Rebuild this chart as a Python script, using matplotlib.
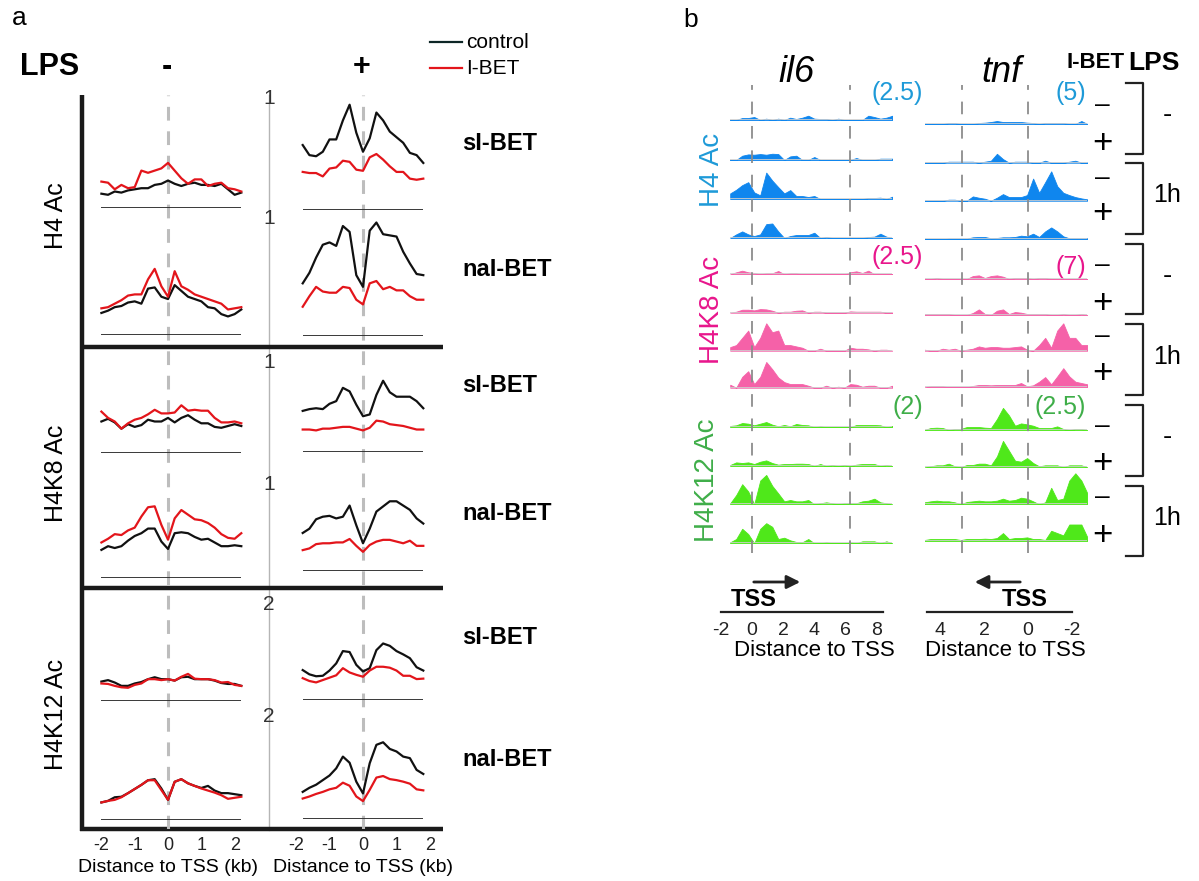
import numpy as np
import matplotlib.pyplot as plt

plt.rcParams['font.family'] = ['Liberation Sans', 'DejaVu Sans']

W, H = 1199, 881

# panel a: profiles around the TSS, x in kb, y in units of the scale bar
x_left = np.round(np.arange(-2.0, 2.21, 0.2), 1)
x_right = np.round(np.arange(-1.8, 1.81, 0.2), 1)

# H4 Ac, sI-BET
h4_si_neg_ctrl = [.13, .12, .15, .14, .16, .17, .18, .18, .21, .22, .25, .22, .20, .22, .23, .21, .21, .20, .22, .17, .12, .14]
h4_si_neg_ibet = [.24, .23, .17, .21, .18, .19, .34, .32, .34, .36, .41, .34, .27, .22, .26, .26, .20, .22, .23, .18, .17, .15]
h4_si_pos_ctrl = [.58, .49, .48, .52, .63, .63, .80, .94, .69, .52, .64, .87, .80, .70, .65, .60, .51, .49, .42]
h4_si_pos_ibet = [.34, .33, .33, .30, .37, .38, .44, .43, .36, .35, .47, .50, .45, .39, .34, .34, .28, .27, .28]
# H4 Ac, naI-BET
h4_na_neg_ctrl = [.19, .21, .24, .25, .28, .29, .27, .40, .41, .33, .31, .43, .38, .33, .31, .29, .24, .23, .18, .16, .18, .22]
h4_na_neg_ibet = [.23, .24, .27, .30, .34, .35, .35, .48, .57, .42, .33, .55, .42, .39, .35, .33, .31, .29, .27, .22, .23, .24]
h4_na_pos_ctrl = [.45, .54, .67, .78, .80, .77, .94, .89, .52, .42, .90, .97, .87, .86, .85, .72, .62, .53, .52]
h4_na_pos_ibet = [.25, .34, .42, .38, .37, .37, .42, .41, .31, .27, .45, .47, .40, .42, .39, .39, .34, .31, .31]
# H4K8 Ac, sI-BET
k8_si_neg_ctrl = [.35, .38, .34, .27, .32, .29, .31, .37, .35, .35, .39, .34, .39, .42, .37, .33, .33, .29, .28, .30, .32, .30]
k8_si_neg_ibet = [.46, .39, .35, .27, .33, .37, .39, .43, .48, .44, .44, .45, .53, .47, .48, .47, .47, .39, .34, .34, .35, .33]
k8_si_pos_ctrl = [.46, .48, .49, .48, .54, .57, .72, .68, .53, .40, .42, .64, .80, .67, .62, .62, .62, .57, .49]
k8_si_pos_ibet = [.25, .25, .24, .26, .26, .27, .28, .28, .26, .24, .27, .35, .34, .31, .30, .29, .27, .25, .25]
# H4K8 Ac, naI-BET
k8_na_neg_ctrl = [.30, .34, .32, .34, .40, .45, .48, .53, .53, .39, .31, .48, .49, .48, .44, .41, .42, .38, .34, .34, .35, .34]
k8_na_neg_ibet = [.38, .42, .47, .46, .51, .54, .66, .76, .77, .57, .41, .64, .73, .68, .63, .62, .59, .54, .47, .43, .42, .48]
k8_na_pos_ctrl = [.44, .49, .60, .63, .64, .61, .63, .76, .53, .32, .49, .69, .75, .81, .81, .76, .71, .61, .55]
k8_na_pos_ibet = [.24, .26, .31, .32, .32, .33, .33, .37, .29, .22, .30, .34, .36, .36, .34, .32, .35, .29, .29]
# H4K12 Ac, sI-BET
k12_si_neg_ctrl = [.40, .43, .38, .31, .31, .36, .39, .45, .49, .45, .45, .42, .49, .50, .45, .45, .45, .42, .37, .35, .35, .31]
k12_si_neg_ibet = [.36, .35, .31, .28, .27, .33, .36, .45, .45, .43, .45, .42, .50, .56, .46, .45, .45, .43, .38, .39, .33, .31]
k12_si_pos_ctrl = [.63, .54, .50, .51, .62, .77, 1.03, 1.01, .74, .60, .67, 1.05, 1.19, 1.14, 1.03, .96, .88, .69, .62]
k12_si_pos_ibet = [.46, .40, .37, .42, .47, .52, .67, .58, .53, .49, .62, .70, .70, .68, .62, .51, .51, .44, .45]
# H4K12 Ac, naI-BET
k12_na_neg_ctrl = [.34, .37, .44, .45, .52, .60, .68, .77, .79, .61, .39, .74, .79, .71, .66, .62, .66, .57, .52, .52, .50, .48]
k12_na_neg_ibet = [.34, .37, .39, .44, .52, .60, .68, .77, .77, .58, .39, .74, .79, .71, .66, .61, .57, .53, .48, .41, .43, .45]
k12_na_pos_ctrl = [.53, .61, .67, .76, .85, .99, 1.22, 1.10, .73, .50, 1.09, 1.45, 1.50, 1.37, 1.32, 1.22, 1.19, .96, .88]
k12_na_pos_ibet = [.40, .44, .49, .53, .58, .61, .71, .65, .44, .35, .57, .81, .84, .78, .76, .73, .69, .58, .56]

# panel b: genome browser tracks, height relative to track scale
il6_kb = np.linspace(-1.4, 9.0, 28)
tnf_kb = np.linspace(4.7, -2.7, 28)
scale_il6 = [2.5, 2.5, 2]
scale_tnf = [5, 7, 2.5]

h4_il6 = [
    [0, 0, .06, .06, .09, 0, .04, 0, .04, 0, .07, .03, .07, .13, .04, .03, .03, 0, .04, 0, 0, 0, 0, .13, .09, .04, .07, .13],
    [0, 0, .13, .17, .16, .18, .16, .19, .18, 0, .11, .13, 0, 0, .09, 0, 0, 0, 0, 0, 0, .06, 0, 0, 0, .04, .04, .04],
    [.17, .28, .42, .51, .20, .11, .80, .56, .36, .17, .27, .09, .09, .06, .09, 0, 0, 0, 0, 0, 0, 0, 0, .03, .03, .04, 0, .07],
    [0, .11, .20, .11, .06, .11, .42, .44, .20, 0, .06, .09, .09, .09, .16, 0, .03, 0, 0, 0, 0, 0, 0, .03, .04, .13, .04, 0],
]
h4_tnf = [
    [0, 0, 0, 0, .03, .03, 0, 0, 0, .03, .04, .06, .09, .06, .06, .06, .06, .04, .03, 0, .03, .03, .03, .03, 0, 0, .09, 0],
    [0, 0, 0, 0, .03, .03, .03, .03, .03, 0, .03, .06, .27, .11, 0, .03, .03, .03, 0, 0, .06, 0, 0, 0, .03, .06, 0, 0],
    [0, 0, 0, 0, .03, .03, 0, 0, .13, .09, .06, 0, .09, .20, .11, .11, .11, .17, .67, .24, .56, .89, .44, .24, .17, .11, .07, .04],
    [0, 0, 0, 0, .02, .02, .02, .02, .06, .07, .07, .03, .04, .06, .06, .07, .11, .09, .17, .07, .24, .36, .24, .09, .03, .03, .03, .03],
]
k8_il6 = [
    [0, .06, .11, .06, .04, 0, .03, .03, .10, 0, .03, .03, 0, 0, 0, 0, 0, 0, 0, 0, .06, .09, .04, .11, 0, 0, 0, 0],
    [0, .03, .09, .09, .07, .11, .10, .06, 0, .03, .03, .06, .07, 0, .03, .03, 0, 0, 0, 0, .04, .03, .03, .03, .03, .03, 0, 0],
    [.11, .17, .39, .61, .11, .39, .83, .56, .61, .17, .17, .13, .09, 0, 0, .06, 0, 0, 0, 0, .09, .06, .06, .04, 0, .03, .03, 0],
    [.09, 0, .33, .50, .11, .33, .78, .56, .31, .17, .11, .11, .11, .06, 0, 0, .06, 0, .03, 0, .11, .09, .03, .06, .06, 0, 0, .06],
]
k8_tnf = [
    [0, 0, .03, 0, 0, 0, 0, 0, .09, .11, .03, .09, .11, .07, 0, .03, .03, .03, 0, .03, .03, 0, 0, 0, 0, 0, 0, 0],
    [.03, .03, .03, .03, .03, 0, 0, 0, .06, .17, .03, 0, .13, .17, .03, .09, .07, .03, .03, .03, .03, 0, 0, .03, 0, 0, .03, 0],
    [.03, 0, 0, .06, .03, .06, 0, .03, .06, .13, .09, .11, .11, .09, .09, .11, .13, .03, 0, .17, .39, .09, .61, .83, .39, .39, .17, .17],
    [0, .03, .03, .03, 0, 0, 0, 0, .04, .07, .07, .06, .07, .07, .07, .07, .13, .03, .06, .17, .31, .09, .33, .58, .33, .17, .13, .09],
]
k12_il6 = [
    [.04, .06, .13, .11, .06, .11, .16, .08, .03, .07, .03, .10, .07, .06, 0, .03, 0, 0, 0, 0, 0, .07, .07, .07, .07, .06, 0, .04],
    [.03, .11, .09, .11, .06, .13, .17, .09, .04, .06, .06, .07, .07, .06, 0, .06, 0, .03, 0, .03, 0, .04, .06, .06, .06, 0, .03, 0],
    [.03, .28, .61, .39, 0, .72, .89, .56, .33, .09, .13, .09, .09, .13, 0, .03, .06, .03, 0, .03, .03, .03, .09, .11, .17, .06, .03, 0],
    [.03, .13, .44, .28, 0, .44, .61, .50, .13, .17, .09, .04, .03, .13, 0, 0, .03, 0, 0, 0, .03, 0, .06, .06, .06, 0, .06, 0],
]
k12_tnf = [
    [0, .06, .07, .06, 0, .03, .03, .09, .09, .09, .07, .06, .33, .67, .44, .13, .20, .17, .13, .06, .06, .06, .11, .03, 0, .03, .03, 0],
    [0, .03, .06, .06, .11, .03, 0, .07, .07, .11, .11, .06, .33, .80, .50, .20, .17, .28, .13, .03, .06, .06, .06, 0, .06, .06, .06, 0],
    [.06, .09, .11, .09, .09, .06, 0, .07, .09, .11, .09, .09, .11, .17, .11, .13, .20, .17, .09, 0, .06, .50, .13, .17, .72, .94, .72, .33],
    [.03, .06, .06, .06, .06, .06, .03, .06, .06, .06, .07, .06, .09, .24, .06, .09, .09, .11, .06, .06, .03, .31, .24, .17, .50, .50, .50, .11],
]

fig = plt.figure(figsize=(W / 100, H / 100), dpi=100)


def px_axes(x0, y0, x1, y1):
    # box given in pixels, origin top-left
    ax = fig.add_axes([x0 / W, 1 - y1 / H, (x1 - x0) / W, (y1 - y0) / H])
    ax.set_facecolor('none')
    return ax


bg = px_axes(0, 0, W, H)
bg.set_xlim(0, W)
bg.set_ylim(H, 0)
bg.axis('off')

# ---------------- panel a ----------------
col_l = px_axes(101.4, 95, 241.3, 829)
col_l.set_xlim(-2, 2.2)
col_r = px_axes(296, 95, 430, 829)
col_r.set_xlim(-2, 2)
for ax in (col_l, col_r):
    ax.set_ylim(0, 1)
    ax.axvline(0, color='#bdbdbd', lw=2.2, ls=(0, (4.5, 3.5)))
    ax.set_xticks([-2, -1, 0, 1, 2])
    ax.set_xticklabels(['-2', '-1', '0', '1', '2'], fontsize=13)
    ax.tick_params(axis='x', length=0, pad=6, colors='#222222')
    ax.set_yticks([])
    for s in ax.spines.values():
        s.set_visible(False)

bg.plot([269, 269], [95, 830], color='#b5b5b5', lw=1.0)
bg.plot([82, 82], [95, 831], color='#1a1a1a', lw=3.2, solid_capstyle='butt')
for y in (347, 588, 829):
    bg.plot([80, 443], [y, y], color='#1a1a1a', lw=3.2, solid_capstyle='butt')

rows = [
    ('sI-BET', 1, 98, 208, 210, 143, h4_si_neg_ctrl, h4_si_neg_ibet, h4_si_pos_ctrl, h4_si_pos_ibet),
    ('naI-BET', 1, 219, 335, 336, 270, h4_na_neg_ctrl, h4_na_neg_ibet, h4_na_pos_ctrl, h4_na_pos_ibet),
    ('sI-BET', 1, 363, 453, 451.7, 385, k8_si_neg_ctrl, k8_si_neg_ibet, k8_si_pos_ctrl, k8_si_pos_ibet),
    ('naI-BET', 1, 485, 577.7, 570.7, 513, k8_na_neg_ctrl, k8_na_neg_ibet, k8_na_pos_ctrl, k8_na_pos_ibet),
    ('sI-BET', 2, 605, 700.7, 700, 637, k12_si_neg_ctrl, k12_si_neg_ibet, k12_si_pos_ctrl, k12_si_pos_ibet),
    ('naI-BET', 2, 716.7, 820, 819, 760, k12_na_neg_ctrl, k12_na_neg_ibet, k12_na_pos_ctrl, k12_na_pos_ibet),
]

for name, scale, top, base_l, base_r, name_y, nc, ni, pc, pi in rows:
    axl = px_axes(101.4, top, 241.3, base_l)
    axl.set_xlim(-2, 2.2)
    axr = px_axes(302.7, top, 423.3, base_r)
    axr.set_xlim(-1.8, 1.8)
    for ax, x, c, i in ((axl, x_left, nc, ni), (axr, x_right, pc, pi)):
        ax.set_ylim(0, scale)
        ax.axis('off')
        ax.axhline(0, color='#2a2a2a', lw=1.3)
        ax.plot(x, c, color='#111111', lw=1.6, clip_on=False)
        ax.plot(x, i, color='#e3151b', lw=1.6, clip_on=False)
    bg.text(269, top, str(scale), ha='center', va='center', fontsize=15, color='#333333')
    bg.text(462, name_y, name, ha='left', va='center', fontsize=17, fontweight='bold')

for label, y in (('H4 Ac', 216), ('H4K8 Ac', 473), ('H4K12 Ac', 714)):
    bg.text(56, y, label, rotation=90, ha='center', va='center', fontsize=18)

bg.text(12, 18, 'a', fontsize=19, va='center')
bg.text(20, 67, 'LPS', fontsize=22, fontweight='bold', va='center')
bg.text(167, 67, '-', fontsize=22, fontweight='bold', ha='center', va='center')
bg.text(362, 67, '+', fontsize=22, fontweight='bold', ha='center', va='center')
bg.plot([430, 462], [42, 42], color='#0d2626', lw=1.6)
bg.plot([430, 462], [68, 68], color='#e3151b', lw=1.6)
bg.text(466, 42, 'control', fontsize=15, va='center')
bg.text(466, 68, 'I-BET', fontsize=15, va='center')
bg.text(168, 867, 'Distance to TSS (kb)', ha='center', va='center', fontsize=14)
bg.text(363, 867, 'Distance to TSS (kb)', ha='center', va='center', fontsize=14)

# ---------------- panel b ----------------
marks = [
    ('H4 Ac', '#0f86ee', '#1e9ad8', h4_il6, h4_tnf,
     [120, 160, 199, 238], [124, 162.7, 200.7, 239.3], (712, 170)),
    ('H4K8 Ac', '#f561a8', '#e8168c', k8_il6, k8_tnf,
     [274.3, 312.7, 350.7, 387.7], [279, 315, 350.7, 387.3], (712, 310)),
    ('H4K12 Ac', '#4fe81a', '#3fae49', k12_il6, k12_tnf,
     [427.3, 466, 504.3, 543.3], [430, 467.3, 504.3, 541], (707, 480)),
]
genes = [
    (il6_kb, (-1.4, 9.0), (730.2, 892.4), [0, 6.3]),
    (tnf_kb, (4.7, -2.7), (924.6, 1087.4), [0, 3.0]),
]

for m, (label, fill, tcol, il6_tr, tnf_tr, b_il6, b_tnf, lpos) in enumerate(marks):
    for (kb, xlim, (x0, x1), _), tracks, bases in zip(genes, (il6_tr, tnf_tr), (b_il6, b_tnf)):
        for vals, b in zip(tracks, bases):
            ax = px_axes(x0, b - 33, x1, b)
            ax.set_xlim(*xlim)
            ax.set_ylim(0, 1)
            ax.axis('off')
            ax.axhline(0, color='#cfcfcf', lw=1.2)
            ax.fill_between(kb, 0, vals, color=fill, lw=0.6, edgecolor=fill)
    bg.text(lpos[0], lpos[1], label, rotation=90, ha='center', va='center', fontsize=20, color=tcol)

for (kb, xlim, (x0, x1), dash_at) in genes:
    ov = px_axes(x0, 85, x1, 553)
    ov.set_xlim(*xlim)
    ov.axis('off')
    for d in dash_at:
        ov.axvline(d, color='#8c8c8c', lw=1.3, ls=(0, (7, 6.5)))

scale_pos = [((897, 93), (1071, 93)), ((897, 257), (1071, 267)), ((908, 407), (1060, 407))]
for (label, fill, tcol, *_), s1, s2, (p1, p2) in zip(marks, scale_il6, scale_tnf, scale_pos):
    bg.text(p1[0], p1[1], f'({s1:g})', ha='center', va='center', fontsize=18, color=tcol)
    bg.text(p2[0], p2[1], f'({s2:g})', ha='center', va='center', fontsize=18, color=tcol)

bg.text(796, 73, 'il6', style='italic', fontsize=26, ha='center', va='center')
bg.text(1001, 73, 'tnf', style='italic', fontsize=26, ha='center', va='center')
bg.text(683, 20, 'b', fontsize=19, va='center')
bg.text(1125, 63, 'I-BET', fontsize=16, fontweight='bold', ha='right', va='center')
bg.text(1128, 63, 'LPS', fontsize=19, fontweight='bold', ha='left', va='center')

sign_y = [107, 143, 180, 214, 267, 303, 338, 374, 428, 464, 499, 536]
for k, y in enumerate(sign_y):
    if k % 2 == 0:
        bg.text(1102, y - 2, '\u2013', ha='center', va='center', fontsize=19)
    else:
        bg.text(1102, y, '+', ha='center', va='center', fontsize=25)

brackets = [(83, 154), (163, 234), (244, 314), (324, 395), (405, 476), (486, 556)]
for k, (y0, y1) in enumerate(brackets):
    bg.plot([1126, 1143, 1143, 1126], [y0, y0, y1, y1], color='#222222', lw=1.6)
    bg.text(1167, (y0 + y1) / 2 - 3, '-' if k % 2 == 0 else '1h', ha='center', va='center',
            fontsize=20 if k % 2 == 0 else 18)

# distance axes under the tracks
for (x0, x1), xlim, ticks, tss_x, arrow, cx in (
        ((720.8, 883), (-2, 8.4), [-2, 0, 2, 4, 6, 8], 754, (751, 803), 814),
        ((926.8, 1072), (4.6, -2.0), [4, 2, 0, -2], 1025, (1023, 972), 1005)):
    sa = px_axes(x0, 600, x1, 612)
    sa.set_xlim(*xlim)
    for side in ('top', 'left', 'right'):
        sa.spines[side].set_visible(False)
    sa.spines['bottom'].set_linewidth(1.6)
    sa.spines['bottom'].set_color('#222222')
    sa.set_yticks([])
    sa.set_xticks(ticks)
    sa.set_xticklabels([str(t) for t in ticks], fontsize=14)
    sa.tick_params(axis='x', length=0, pad=7, colors='#222222')
    bg.text(tss_x, 599, 'TSS', fontsize=17, fontweight='bold', ha='center', va='center')
    bg.annotate('', xy=(arrow[1], 582), xytext=(arrow[0], 582),
                arrowprops=dict(arrowstyle='-|>', color='#222222', lw=2, mutation_scale=20))
    bg.text(cx, 650, 'Distance to TSS', ha='center', va='center', fontsize=16)

fig.savefig('out.png', dpi=100)
